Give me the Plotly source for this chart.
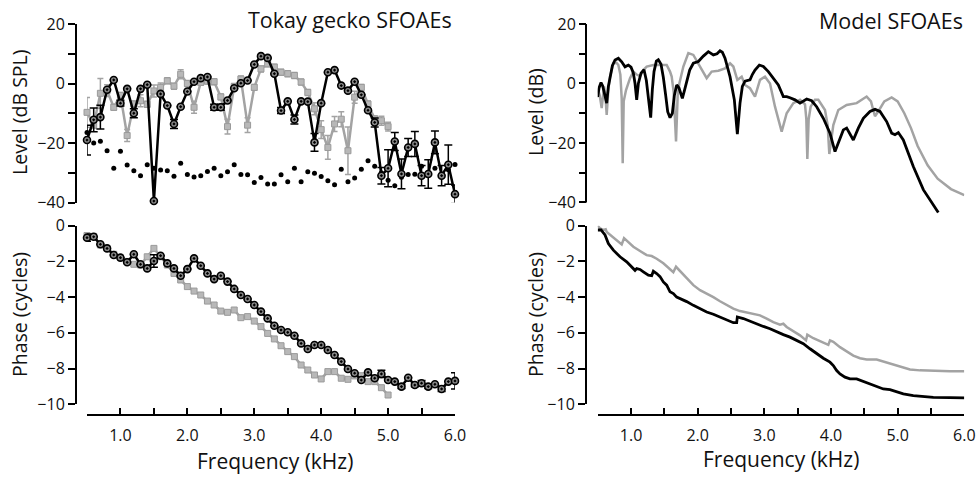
import plotly.graph_objects as go

# ---------------- DATA ----------------
freq_black = [0.5, 0.6, 0.7, 0.8, 0.9, 1.0, 1.1, 1.2, 1.3, 1.4, 1.5, 1.6, 1.7, 1.8, 1.9, 2.0,
              2.1, 2.2, 2.3, 2.4, 2.5, 2.6, 2.7, 2.8, 2.9, 3.0, 3.1, 3.2, 3.3, 3.4, 3.5, 3.6,
              3.7, 3.8, 3.9, 4.0, 4.1, 4.2, 4.3, 4.4, 4.5, 4.6, 4.7, 4.8, 4.9, 5.0, 5.1, 5.2,
              5.3, 5.4, 5.5, 5.6, 5.7, 5.8, 5.9, 6.0]
level_black = [-19, -12.2, -11.3, -2.1, 1.2, -6.6, -1.8, -10, -1.8, -0.4, -39.5, -3.5, -7.4, -13.6, -7.8, -2.7,
               0.6, 1.8, 2.2, -8, -8, -5.7, -1.6, 0.1, 1.0, 6.4, 9.2, 8.6, 3.3, -9.1, -6.0, -12.1,
               -6.0, -6.1, -19.8, -6.6, 3.8, 4.5, -0.7, -2.4, 0.6, -3.8, -9, -13.1, -31, -28.5, -19.5, -30.4,
               -21.5, -20.3, -31, -30.4, -19.8, -31, -27.3, -37.2]
level_black_err = [5, 4, 4, 0, 0, 1, 0, 1.5, 0, 0, 0, 0, 0, 1.5, 0, 0,
                   0, 0, 0, 1, 1, 0, 0, 0, 0, 0, 0, 0, 0, 1, 0, 1.5,
                   0, 0, 3, 0, 0, 0, 0, 0, 0, 0, 0, 1.5, 2.8, 6.2, 3, 5,
                   3, 4.2, 3.4, 4.8, 3.8, 3.4, 6.6, 3.1]
noise_floor = [-16.5, -20, -19.4, -22.6, -28.5, -22.8, -27.4, -29.3, -31, -27.3, -28.5, -29.1, -29.3, -31.2, -26.8, -30.6,
               -31.4, -31, -29.6, -28.5, -31, -29.7, -27.3, -30.6, -30.7, -33.3, -31.6, -33.8, -33.8, -30.7, -33, -28.5,
               -33, -29.7, -30.2, -31.3, -32.7, -34, -28.8, -33, -31.8, -28.8, -26, -27.8, -30, -32.5, -34.4, -31.5,
               -30.6, -30.5, -27.8, -30.5, -28.5, -30.5, -29, -27.2]

freq_gray = [0.5, 0.6, 0.7, 0.8, 0.9, 1.0, 1.1, 1.2, 1.3, 1.4, 1.5, 1.6, 1.7, 1.8, 1.9, 2.0,
             2.1, 2.2, 2.3, 2.4, 2.5, 2.6, 2.7, 2.8, 2.9, 3.0, 3.1, 3.2, 3.3, 3.4, 3.5, 3.6,
             3.7, 3.8, 3.9, 4.0, 4.1, 4.2, 4.3, 4.4, 4.5, 4.6, 4.7, 4.8, 4.9, 5.0]
level_gray = [-9.7, -14, -3.3, -2.4, -8, -4, -17.5, -6.9, -5.8, -7, -2.5, -1.3, 0.9, -0.9, 3.1, 0,
              -8, 0.4, 0.8, 0.6, -4.5, -14.5, -1, 1.5, -14, -1.3, 4.9, 6.6, 5.5, 3.8, 3.3, 2.7,
              0.5, -3, -8.5, -15.5, -21.5, -13.6, -12, -22.6, -4.6, -1.3, -6.9, -11.9, -12.5, -14.5]
level_gray_err = [5, 1, 5, 2, 1, 1, 2, 1, 2, 1, 2, 1.5, 1, 1, 1.5, 1,
                  2, 1, 1, 1, 1, 2.5, 1, 1, 2.5, 1, 1, 1, 1, 1, 1, 1,
                  1, 1, 2, 3, 4, 2.5, 2.5, 8, 2, 1, 1, 1, 1.5, 1.5]

phase_black = [-0.67, -0.62, -1.04, -1.27, -1.64, -1.79, -2.05, -1.6, -2.16, -2.39, -1.98, -1.68, -2.11, -2.39, -2.8, -2.43,
               -1.83, -2.24, -2.67, -2.99, -2.8, -3.13, -3.54, -3.88, -4.1, -4.44, -4.81, -5.19, -5.6, -5.84, -5.97, -6.16,
               -6.59, -6.9, -6.68, -6.68, -6.96, -7.24, -7.61, -8.02, -8.26, -8.64, -8.21, -8.54, -8.3, -8.64, -8.73, -9.01,
               -8.51, -8.92, -8.82, -9.01, -8.88, -9.14, -8.73, -8.69]
phase_black_err = [0.2, 0, 0, 0, 0, 0, 0, 0, 0, 0, 0.35, 0, 0, 0, 0, 0,
                   0, 0, 0, 0, 0, 0, 0, 0, 0, 0, 0, 0, 0, 0, 0, 0,
                   0, 0, 0, 0, 0, 0, 0, 0, 0, 0, 0, 0, 0.2, 0, 0, 0.1,
                   0, 0.1, 0.15, 0.1, 0, 0.15, 0, 0.45]
phase_gray = [-0.55, -0.6, -1.08, -1.27, -1.6, -1.79, -2.0, -2.16, -2.2, -1.74, -1.27, -1.74, -2.2, -2.67, -3.04, -3.41,
              -3.66, -3.88, -4.22, -4.44, -4.78, -4.85, -4.72, -5.15, -5.09, -5.34, -5.65, -6.03, -6.34, -6.72, -7.05, -7.33,
              -7.8, -8.08, -8.36, -8.58, -8.17, -8.17, -8.54, -8.6, -8.41, -8.4, -8.73, -8.73, -9.07, -9.48]

model_level_black_f = [0.485, 0.5, 0.52, 0.55, 0.575, 0.6, 0.635, 0.66, 0.685, 0.72, 0.76, 0.81, 0.86, 0.91, 0.96, 1.0,
                       1.035, 1.06, 1.085, 1.11, 1.15, 1.195, 1.23, 1.26, 1.295, 1.32, 1.345, 1.38, 1.41, 1.45, 1.485,
                       1.52, 1.55, 1.585, 1.62, 1.65, 1.685, 1.72, 1.77, 1.8, 1.835, 1.88, 1.935, 2.01, 2.085, 2.16,
                       2.235, 2.29, 2.335, 2.37, 2.41, 2.485, 2.55, 2.595, 2.635, 2.67, 2.71, 2.785, 2.82, 2.86, 2.925,
                       2.985, 3.06, 3.135, 3.21, 3.285, 3.335, 3.385, 3.46, 3.535, 3.635, 3.71, 3.785, 3.885, 3.985,
                       4.06, 4.11, 4.185, 4.235, 4.285, 4.335, 4.41, 4.485, 4.585, 4.66, 4.735, 4.835, 4.91, 4.96,
                       5.01, 5.085, 5.235, 5.385, 5.61]
model_level_black = [-3.0, -4.5, -1.5, 0.3, -0.8, -3, -6.6, -1, 2.3, 6, 7.9, 8.5, 7.3, 5.6, 6.2, 5.5,
                     3.5, 0, -5.5, 0, 3.5, 4.6, 1, -4, -11.5, -2, 4, 7.5, 8, 6.5, 2,
                     -4, -9.5, -11.5, -10, -4, -0.5, -1.5, -5, -2.5, 1, 4.5, 6.8, 7.4, 9.2, 10.7,
                     9.6, 10, 11, 10.5, 8.5, 2.3, -5.5, -17, -6.6, -1, 0.8, 1.2, 3, 4.5, 6.2,
                     5.7, 4, 1.8, -0.5, -4.4, -4.4, -4.8, -5.5, -6.6, -5.2, -5.8, -7.8, -11.7, -16.7,
                     -22.9, -20, -15.6, -15, -17.2, -19, -15, -11.7, -9.4, -8.7, -9.4, -12.8, -16.7, -17.2,
                     -16.5, -19, -27.9, -35.7, -43.4]

model_level_gray_f = [0.5, 0.53, 0.56, 0.58, 0.595, 0.615, 0.635, 0.66, 0.685, 0.735, 0.78, 0.81, 0.84, 0.86, 0.875,
                      0.89, 0.925, 0.985, 1.035, 1.085, 1.135, 1.185, 1.235, 1.335, 1.435, 1.535, 1.585, 1.61, 1.64,
                      1.675, 1.7, 1.725, 1.785, 1.86, 1.935, 2.035, 2.135, 2.21, 2.31, 2.41, 2.485, 2.535, 2.595,
                      2.66, 2.71, 2.785, 2.86, 2.935, 3.01, 3.085, 3.16, 3.26, 3.335, 3.435, 3.535, 3.61, 3.63,
                      3.645, 3.665, 3.695, 3.76, 3.81, 3.91, 3.95, 3.975, 4.035, 4.11, 4.235, 4.385, 4.535, 4.6,
                      4.635, 4.66, 4.72, 4.8, 4.91, 5.0, 5.1, 5.2, 5.3, 5.45, 5.6, 5.8, 6.0]
model_level_gray = [-1.6, -4, -8.3, -3, -1, -4, -10.6, -2, 2.3, 6.8, 7, 6.2, 3, -5, -26.8,
                    -6, -2.2, 1.8, 4, 3, 2.5, 4.5, 5.7, 6.2, 6.2, 6.2, 4, 2.3, -3,
                    -19.5, -4, 0, 5.7, 10.2, 9.6, 5.7, 1.8, 4, 4.3, 5.1, 6.8, 5.7, 1.2,
                    2.3, -0.5, -1.6, -4.4, 1.2, 2.3, 0, -7.8, -16.2, -10, -6.6, -5.5, -7, -12,
                    -25.4, -12, -7.8, -5.5, -5.5, -8.9, -14, -23.7, -14, -8.9, -7.2, -6.6, -4.4, -6,
                    -9, -11, -9, -6, -4.7, -6, -10, -15, -21, -27.5, -32, -35.5, -37.5]

model_phase_black_f = [0.5, 0.55, 0.61, 0.66, 0.735, 0.835, 0.935, 1.01, 1.06, 1.085, 1.135, 1.185, 1.26, 1.31,
                       1.335, 1.385, 1.435, 1.485, 1.535, 1.585, 1.635, 1.685, 1.735, 1.785, 1.835, 1.935, 2.035,
                       2.135, 2.235, 2.335, 2.435, 2.535, 2.585, 2.595, 2.685, 2.785, 2.885, 2.985, 3.085, 3.185,
                       3.285, 3.385, 3.485, 3.585, 3.685, 3.785, 3.885, 3.985, 4.035, 4.085, 4.135, 4.21, 4.285,
                       4.385, 4.485, 4.585, 4.685, 4.785, 4.885, 4.985, 5.085, 5.235, 5.385, 5.535, 5.785, 6.0]
model_phase_black = [-0.24, -0.24, -0.52, -1.0, -1.37, -1.74, -2.02, -2.3, -2.5, -2.4, -2.45, -2.58, -2.77, -2.8,
                     -2.55, -2.68, -2.85, -3.15, -3.33, -3.7, -3.8, -4.0, -4.08, -4.14, -4.25, -4.46, -4.64,
                     -4.83, -4.96, -5.11, -5.24, -5.43, -5.43, -5.11, -5.2, -5.36, -5.49, -5.64, -5.77, -5.95,
                     -6.1, -6.24, -6.42, -6.61, -6.89, -7.17, -7.42, -7.64, -7.83, -8.11, -8.3, -8.48, -8.58,
                     -8.58, -8.73, -8.86, -8.99, -9.14, -9.18, -9.29, -9.42, -9.51, -9.57, -9.61, -9.63, -9.64]

model_phase_gray_f = [0.5, 0.535, 0.585, 0.62, 0.635, 0.685, 0.735, 0.81, 0.86, 0.895, 0.96, 1.035, 1.135, 1.235,
                      1.31, 1.385, 1.485, 1.585, 1.635, 1.675, 1.735, 1.835, 1.935, 2.035, 2.135, 2.235, 2.335,
                      2.435, 2.535, 2.635, 2.735, 2.835, 2.935, 3.035, 3.135, 3.235, 3.285, 3.335, 3.435, 3.535,
                      3.625, 3.645, 3.735, 3.835, 3.96, 3.985, 4.035, 4.135, 4.235, 4.335, 4.435, 4.535, 4.685,
                      4.785, 4.935, 5.035, 5.185, 5.335, 5.535, 5.785, 6.0]
model_phase_gray = [0, -0.15, -0.24, -0.2, -0.35, -0.5, -0.7, -0.9, -1.05, -0.7, -0.9, -1.18, -1.42, -1.65,
                    -1.7, -1.85, -2.1, -2.4, -2.6, -2.3, -2.55, -2.96, -3.33, -3.61, -3.8, -4.0, -4.23,
                    -4.42, -4.64, -4.78, -4.87, -4.94, -5.02, -5.2, -5.4, -5.54, -5.49, -5.67, -5.92, -6.14,
                    -6.42, -6.1, -6.3, -6.48, -6.67, -6.42, -6.5, -6.8, -7.04, -7.27, -7.42, -7.49, -7.49,
                    -7.6, -7.79, -7.92, -8.05, -8.1, -8.13, -8.15, -8.15]

x_tickvals = [0.5, 1.0, 1.5, 2.0, 2.5, 3.0, 3.5, 4.0, 4.5, 5.0, 5.5, 6.0]
x_ticktext = ["", "1.0", "", "2.0", "", "3.0", "", "4.0", "", "5.0", "", "6.0"]
level_tickvals = [-40, -30, -20, -10, 0, 10, 20]
level_ticktext = ["\u221240", "", "\u221220", "", "0", "", "20"]
phase_tickvals = [-10, -8, -6, -4, -2, 0]
phase_ticktext = ["\u221210", "\u22128", "\u22126", "\u22124", "\u22122", "0"]

# ---------------- STYLE ----------------
W, H = 976, 479
FONT = "Open Sans"
BLACK = "#000000"
TXT = "#111111"
GRAY = "#a3a3a3"

def px(x):
    return x / W

def py(y):
    return 1 - y / H

fig = go.Figure()

circle_marker = dict(symbol="circle-dot", size=7, color="#8a8a8a", line=dict(color=BLACK, width=1.6))
square_marker = dict(symbol="square", size=6, color="#b8b8b8", line=dict(color="#9a9a9a", width=1))

# --- Top-left: measured level ---
fig.add_trace(go.Scatter(
    x=freq_gray, y=level_gray, mode="lines+markers", xaxis="x", yaxis="y",
    line=dict(color=GRAY, width=2.5), marker=square_marker,
    error_y=dict(type="data", array=level_gray_err, color=GRAY, thickness=1.5, width=3),
    cliponaxis=False, showlegend=False))
fig.add_trace(go.Scatter(
    x=freq_black, y=noise_floor, mode="markers", xaxis="x", yaxis="y",
    marker=dict(size=5, color=BLACK), cliponaxis=False, showlegend=False))
fig.add_trace(go.Scatter(
    x=freq_black, y=level_black, mode="lines+markers", xaxis="x", yaxis="y",
    line=dict(color=BLACK, width=2.5), marker=circle_marker,
    error_y=dict(type="data", array=level_black_err, color=BLACK, thickness=1.5, width=4),
    cliponaxis=False, showlegend=False))

# --- Bottom-left: measured phase ---
fig.add_trace(go.Scatter(
    x=freq_gray, y=phase_gray, mode="lines+markers", xaxis="x3", yaxis="y3",
    line=dict(color=GRAY, width=2.5), marker=square_marker,
    cliponaxis=False, showlegend=False))
fig.add_trace(go.Scatter(
    x=freq_black, y=phase_black, mode="lines+markers", xaxis="x3", yaxis="y3",
    line=dict(color=BLACK, width=2.5), marker=circle_marker,
    error_y=dict(type="data", array=phase_black_err, color=BLACK, thickness=1.5, width=4),
    cliponaxis=False, showlegend=False))

# --- Top-right: model level ---
fig.add_trace(go.Scatter(
    x=model_level_gray_f, y=model_level_gray, mode="lines", xaxis="x2", yaxis="y2",
    line=dict(color=GRAY, width=2.5), showlegend=False))
fig.add_trace(go.Scatter(
    x=model_level_black_f, y=model_level_black, mode="lines", xaxis="x2", yaxis="y2",
    line=dict(color=BLACK, width=2.8), showlegend=False))

# --- Bottom-right: model phase ---
fig.add_trace(go.Scatter(
    x=model_phase_gray_f, y=model_phase_gray, mode="lines", xaxis="x4", yaxis="y4",
    line=dict(color=GRAY, width=2.5), showlegend=False))
fig.add_trace(go.Scatter(
    x=model_phase_black_f, y=model_phase_black, mode="lines", xaxis="x4", yaxis="y4",
    line=dict(color=BLACK, width=2.8), showlegend=False))

LEFT_X = [px(87), px(455)]
RIGHT_X = [px(597.7), px(964.3)]
TOP_Y = [py(202.5), py(24)]
TOP_Y_EXT = [py(202.5 + 5 * 2.967), py(24)]
BOT_Y = [py(404.3), py(225.7)]
XPOS = py(415)

tickfont = dict(family=FONT, size=16, color=TXT)

def yax(domain, rng, pos, tv, tt, showline=True):
    return dict(domain=domain, range=rng, anchor="free", position=pos,
                showline=showline, linecolor=BLACK, linewidth=2,
                ticks="outside", ticklen=7, tickwidth=2, tickcolor=BLACK,
                tickvals=tv, ticktext=tt, tickfont=tickfont, automargin=False,
                showgrid=False, zeroline=False, fixedrange=True)

def xax_hidden(domain):
    return dict(domain=domain, range=[0.5, 6.0], visible=False, showgrid=False,
                zeroline=False, fixedrange=True, automargin=False)

def xax_bottom(domain):
    return dict(domain=domain, range=[0.5, 6.0], anchor="free", position=XPOS,
                showline=True, linecolor=BLACK, linewidth=2,
                ticks="inside", ticklen=6, tickwidth=2, tickcolor=BLACK,
                tickvals=x_tickvals, ticktext=x_ticktext, tickfont=tickfont,
                ticklabelstandoff=6, automargin=False,
                showgrid=False, zeroline=False, fixedrange=True)

fig.update_layout(
    width=W, height=H, autosize=False,
    margin=dict(l=0, r=0, t=0, b=0, pad=0, autoexpand=False),
    paper_bgcolor="white", plot_bgcolor="white",
    font=dict(family=FONT, color=TXT),
    xaxis=xax_hidden(LEFT_X),
    yaxis=yax(TOP_Y, [-40, 20], px(76), level_tickvals, level_ticktext),
    xaxis2=xax_hidden(RIGHT_X),
    yaxis2=yax(TOP_Y_EXT, [-45, 20], px(586), level_tickvals, level_ticktext, showline=False),
    xaxis3=xax_bottom(LEFT_X),
    yaxis3=yax(BOT_Y, [-10, 0], px(76), phase_tickvals, phase_ticktext),
    xaxis4=xax_bottom(RIGHT_X),
    yaxis4=yax(BOT_Y, [-10, 0], px(586), phase_tickvals, phase_ticktext),
)

# y-axis line for the model level panel (spans -40..20 only)
fig.add_shape(type="line", xref="paper", yref="y2", x0=px(586), x1=px(586), y0=-40, y1=20,
              line=dict(color=BLACK, width=2))

def label(text, x, y, size, angle=0):
    fig.add_annotation(text=text, x=px(x), y=py(y), xref="paper", yref="paper",
                       xanchor="center", yanchor="middle", showarrow=False, textangle=angle,
                       font=dict(family=FONT, size=size, color=TXT))

label("Tokay gecko SFOAEs", 350, 19, 21.5)
label("Model SFOAEs", 891, 20, 21.5)
label("Level (dB SPL)", 19, 112, 19.5, -90)
label("Phase (cycles)", 19, 315, 19.5, -90)
label("Level (dB)", 535, 112, 19.5, -90)
label("Phase (cycles)", 535, 315, 19.5, -90)
label("Frequency (kHz)", 275, 461, 21)
label("Frequency (kHz)", 781, 459, 21)

fig.write_html("out.html")
